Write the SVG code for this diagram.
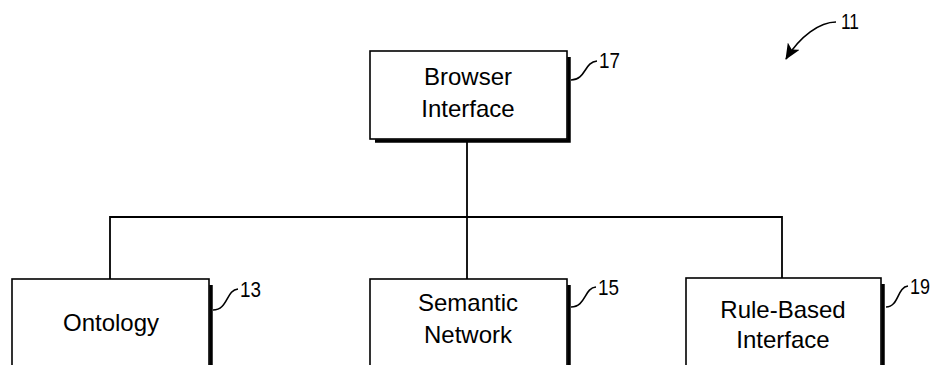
<svg xmlns="http://www.w3.org/2000/svg" width="934" height="365" viewBox="0 0 934 365">
<defs>
<style>
.box{fill:#fff;stroke:#000;stroke-width:1.6}
.sh{fill:none;stroke:#000;stroke-width:3.5}
.lbl{font-family:"Liberation Sans",Arial,sans-serif;font-size:24px;fill:#000;text-anchor:middle}
.num{font-family:"Liberation Sans",Arial,sans-serif;font-size:22px;fill:#000}
.ld{fill:none;stroke:#000;stroke-width:1.6}
.cn{fill:none;stroke:#000;stroke-width:1.8}
</style>
<marker id="ah" markerWidth="16" markerHeight="14" refX="15" refY="7" orient="auto" markerUnits="userSpaceOnUse" viewBox="0 0 16 14">
<path d="M0,0 L16,7 L0,14 L4,7 Z" fill="#000"/>
</marker>
</defs>
<g id="connectors">
<path class="cn" d="M467,142 V217"/>
<path class="cn" d="M110,279 V217 H782 V278"/>
<path class="cn" d="M467,217 V279"/>
</g>
<g id="browser">
<path class="sh" d="M569,57 V141 H375"/>
<rect class="box" x="370" y="51" width="197" height="88"/>
<text class="lbl" x="468" y="85">Browser</text>
<text class="lbl" x="468" y="117">Interface</text>
<path class="ld" d="M571,80 C586,80 584,62 597,61"/>
<text class="num" x="599" y="68" textLength="21" lengthAdjust="spacingAndGlyphs">17</text>
</g>
<g id="ontology">
<path class="sh" d="M211,285 V366"/>
<rect class="box" x="12" y="279" width="197" height="100"/>
<text class="lbl" x="111" y="331">Ontology</text>
<path class="ld" d="M213,310 C228,310 226,290 238,289"/>
<text class="num" x="240" y="297" textLength="21" lengthAdjust="spacingAndGlyphs">13</text>
</g>
<g id="semantic">
<path class="sh" d="M569,285 V366"/>
<rect class="box" x="370" y="279" width="197" height="100"/>
<text class="lbl" x="468" y="311">Semantic</text>
<text class="lbl" x="468" y="343">Network</text>
<path class="ld" d="M571,307 C586,307 584,288 596,287"/>
<text class="num" x="598" y="295" textLength="21" lengthAdjust="spacingAndGlyphs">15</text>
</g>
<g id="rulebased">
<path class="sh" d="M883,284 V366"/>
<rect class="box" x="686" y="278" width="195" height="100"/>
<text class="lbl" x="783" y="318">Rule-Based</text>
<text class="lbl" x="783" y="348">Interface</text>
<path class="ld" d="M886,307 C899,307 897,287 908,286"/>
<text class="num" x="910" y="294" textLength="20" lengthAdjust="spacingAndGlyphs">19</text>
</g>
<g id="ref11">
<path class="ld" d="M836,22 C820,22 800,36 786,59" marker-end="url(#ah)" stroke-width="2"/>
<text class="num" x="841" y="29" textLength="18" lengthAdjust="spacingAndGlyphs">11</text>
</g>
</svg>
